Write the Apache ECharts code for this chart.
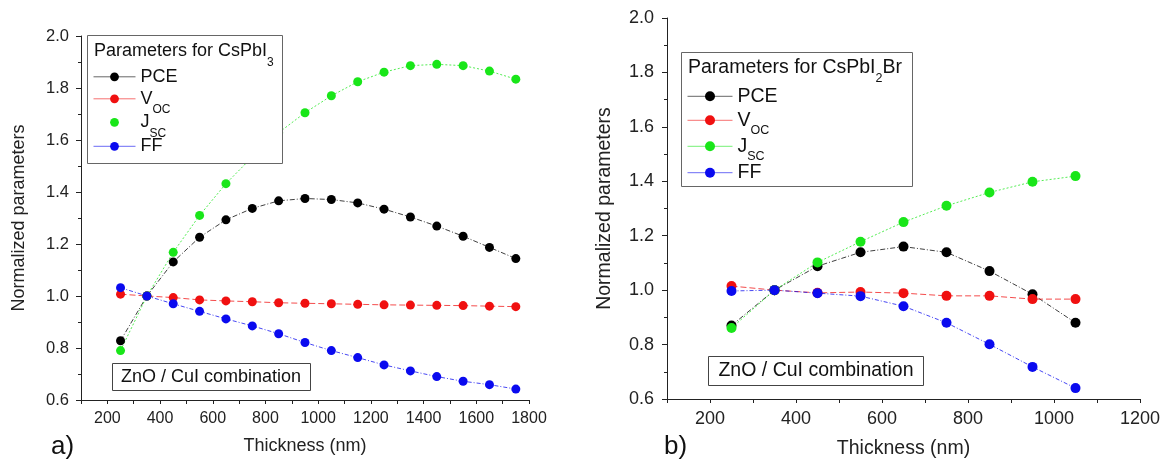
<!DOCTYPE html>
<html><head><meta charset="utf-8">
<script src="https://cdn.jsdelivr.net/npm/echarts@6/dist/echarts.min.js"></script>
<style>html,body{margin:0;padding:0;background:#fff}#c{width:1169px;height:461px}</style>
</head><body><div id="c"></div>
<script>
// ---- data: panel a) CsPbI3 ----
const thicknessA = [250,350,450,550,650,750,850,950,1050,1150,1250,1350,1450,1550,1650,1750];
const pceA = [0.828,1.000,1.131,1.226,1.293,1.337,1.366,1.375,1.371,1.358,1.334,1.304,1.269,1.230,1.187,1.144];
const vocA = [1.007,1.000,0.994,0.985,0.981,0.978,0.974,0.972,0.970,0.968,0.966,0.965,0.964,0.963,0.961,0.959];
const jscA = [0.790,1.000,1.168,1.310,1.432,1.535,1.628,1.705,1.770,1.824,1.861,1.886,1.891,1.886,1.865,1.834];
const ffA  = [1.032,1.000,0.970,0.941,0.912,0.885,0.855,0.821,0.790,0.763,0.735,0.712,0.690,0.672,0.659,0.642];
// ---- data: panel b) CsPbI2Br ----
const thicknessB = [250,350,450,550,650,750,850,950,1050];
const pceB = [0.870,1.000,1.088,1.139,1.160,1.139,1.070,0.985,0.880];
const vocB = [1.015,1.000,0.990,0.993,0.989,0.979,0.979,0.967,0.967];
const jscB = [0.861,1.000,1.102,1.178,1.250,1.310,1.359,1.398,1.419];
const ffB  = [0.997,1.000,0.989,0.978,0.941,0.880,0.801,0.718,0.640];
// ---- axes / labels ----
const seriesNames = ['PCE','VOC','JSC','FF'];
const seriesColors = ['#000000','#f01010','#19e619','#0a0aef'];
const yMin = 0.6, yMax = 2.0, yStep = 0.2;
const xMinA = 100, xMaxA = 1800, xMinB = 100, xMaxB = 1200, xStep = 100, xLabelStep = 200;
const yTitle = 'Normalized parameters';
const xTitle = 'Thickness (nm)';
const boxText = 'ZnO / CuI combination';

const FONT = 'Liberation Sans, Arial, sans-serif';
const chart = echarts.init(document.getElementById('c'), null, {renderer:'canvas'});

function pairs(xs, ys){ return xs.map((x,i)=>[x, ys[i]]); }

function xAxis(gi, min, max, fs, margin, gap, nfs){
  return {type:'value', gridIndex:gi, min:min, max:max, interval:xStep,
    axisLine:{show:true, lineStyle:{color:'#222', width:1}},
    axisTick:{show:true, inside:false, length:4, lineStyle:{color:'#222'}},
    splitLine:{show:false},
    axisLabel:{color:'#222', fontSize:fs, fontFamily:FONT, margin:margin,
      formatter:v => (v % xLabelStep === 0 ? String(v) : '')},
    name:xTitle, nameLocation:'middle', nameGap:gap,
    nameTextStyle:{color:'#222', fontSize:nfs, fontFamily:FONT}};
}
function yAxis(gi, fs, margin, gap, nfs){
  return {type:'value', gridIndex:gi, min:yMin, max:yMax, interval:yStep,
    axisLine:{show:true, lineStyle:{color:'#222', width:1}},
    axisTick:{show:true, inside:false, length:5, lineStyle:{color:'#222'}},
    minorTick:{show:true, splitNumber:2, length:3, lineStyle:{color:'#222'}},
    splitLine:{show:false},
    axisLabel:{color:'#222', fontSize:fs, fontFamily:FONT, margin:margin, formatter:v => v.toFixed(1)},
    name:yTitle, nameLocation:'middle', nameGap:gap, nameRotate:90,
    nameTextStyle:{color:'#222', fontSize:nfs, fontFamily:FONT}};
}
const dashes = [[5,2,1,2],[6,3],[2,2],[4,2,1,2]];
function mk(gi, xs, ys, idx, size){
  return {type:'line', name:seriesNames[idx], xAxisIndex:gi, yAxisIndex:gi,
    data:pairs(xs, ys), symbol:'circle', symbolSize:size, showAllSymbol:true,
    itemStyle:{color:seriesColors[idx]},
    lineStyle:{color:seriesColors[idx], width:1, type:dashes[idx], opacity:0.75},
    emphasis:{disabled:true}, animation:false, z:2};
}
function legendFmt(name){
  if (name === 'VOC') return '{a|V}{s|OC}';
  if (name === 'JSC') return '{a|J}{s|SC}';
  return '{a|' + name + '}';
}
// every legend row is 36px tall; main text centred at 18, subscript centred 'off' px lower
function legendRich(fs, sfs, off){
  return {
    a:{fontSize:fs, fontFamily:FONT, color:'#111', padding:[(36-fs)/2,0,(36-fs)/2,0], verticalAlign:'top'},
    s:{fontSize:sfs, fontFamily:FONT, color:'#111', padding:[18+off-sfs/2,0,36-(18+off+sfs/2),0], verticalAlign:'top'}
  };
}
// one legend component per row, so each row sits exactly where the reference has it
function legendRow(name, left, centerY, shift, iw, ih, fs, sfs, off, noLine){
  return {left:left, top:centerY-shift, orient:'vertical', itemWidth:iw, itemHeight:ih, padding:0,
    data:[noLine ? {name:name, lineStyle:{opacity:0}} : {name:name}],
    formatter:legendFmt, textStyle:{rich:legendRich(fs, sfs, off)},
    lineStyle:{type:'solid', width:1, opacity:0.6}, selectedMode:false};
}
const rowsA = [76.5, 98.5, 122, 146];
const rowsB = [94.3, 118.3, 144.3, 170.7];

const legends = [];
seriesNames.forEach((n,i)=>legends.push(legendRow(n, 93, rowsA[i], 8.7, 42, 11, 18, 12, 11, n==='JSC')));
seriesNames.forEach((n,i)=>legends.push(legendRow(n, 687, rowsB[i], 8, 45, 12.5, 19.5, 12.5, 10, false)));

const option = {
  backgroundColor:'#ffffff',
  animation:false,
  grid:[
    {left:81, top:36, width:448, height:364, containLabel:false, outerBoundsMode:'none'},
    {left:667, top:18, width:473, height:381, containLabel:false, outerBoundsMode:'none'}
  ],
  xAxis:[ xAxis(0, xMinA, xMaxA, 16, 11, 37, 18), xAxis(1, xMinB, xMaxB, 18, 11, 40, 19.5) ],
  yAxis:[ yAxis(0, 16.5, 12, 53, 18), yAxis(1, 18, 13, 52, 19.5) ],
  legend:legends,
  graphic:[
    {type:'rect', z:3, shape:{x:87.5, y:35.5, width:195, height:128}, style:{fill:'#fff', stroke:'#666', lineWidth:1}},
    {type:'text', z:5, x:94, y:42, style:{text:'{t|Parameters for CsPbI}{s|3}', rich:{
      t:{fontSize:18, fontFamily:FONT, fill:'#111', lineHeight:18, verticalAlign:'top'},
      s:{fontSize:12, fontFamily:FONT, fill:'#111', lineHeight:12, padding:[15,0,0,0], verticalAlign:'top'}}}},
    {type:'rect', z:3, shape:{x:681.5, y:52.5, width:231, height:134}, style:{fill:'#fff', stroke:'#666', lineWidth:1}},
    {type:'text', z:5, x:688, y:58, style:{text:'{t|Parameters for CsPbI}{s|2}{t|Br}', rich:{
      t:{fontSize:19.5, fontFamily:FONT, fill:'#111', lineHeight:20, verticalAlign:'top'},
      s:{fontSize:12.5, fontFamily:FONT, fill:'#111', lineHeight:12.5, padding:[14,0,0,0], verticalAlign:'top'}}}},
    {type:'rect', z:3, shape:{x:112.5, y:363.5, width:198, height:27}, style:{fill:'#fff', stroke:'#444', lineWidth:1}},
    {type:'text', z:5, x:211, y:377, style:{text:boxText, fontSize:18, fontFamily:FONT, fill:'#111', textAlign:'center', textVerticalAlign:'middle'}},
    {type:'rect', z:3, shape:{x:708.5, y:356.5, width:215, height:29}, style:{fill:'#fff', stroke:'#444', lineWidth:1}},
    {type:'text', z:5, x:816, y:371, style:{text:boxText, fontSize:19.5, fontFamily:FONT, fill:'#111', textAlign:'center', textVerticalAlign:'middle'}},
    {type:'text', z:5, x:51, y:447, style:{text:'a)', fontSize:26, fontFamily:FONT, fill:'#111', textVerticalAlign:'middle'}},
    {type:'text', z:5, x:664, y:447, style:{text:'b)', fontSize:26, fontFamily:FONT, fill:'#111', textVerticalAlign:'middle'}}
  ],
  series:[
    mk(0, thicknessA, pceA, 0, 9), mk(0, thicknessA, vocA, 1, 9), mk(0, thicknessA, jscA, 2, 9), mk(0, thicknessA, ffA, 3, 9),
    mk(1, thicknessB, pceB, 0, 10), mk(1, thicknessB, vocB, 1, 10), mk(1, thicknessB, jscB, 2, 10), mk(1, thicknessB, ffB, 3, 10)
  ]
};
chart.setOption(option);
</script>
</body></html>
